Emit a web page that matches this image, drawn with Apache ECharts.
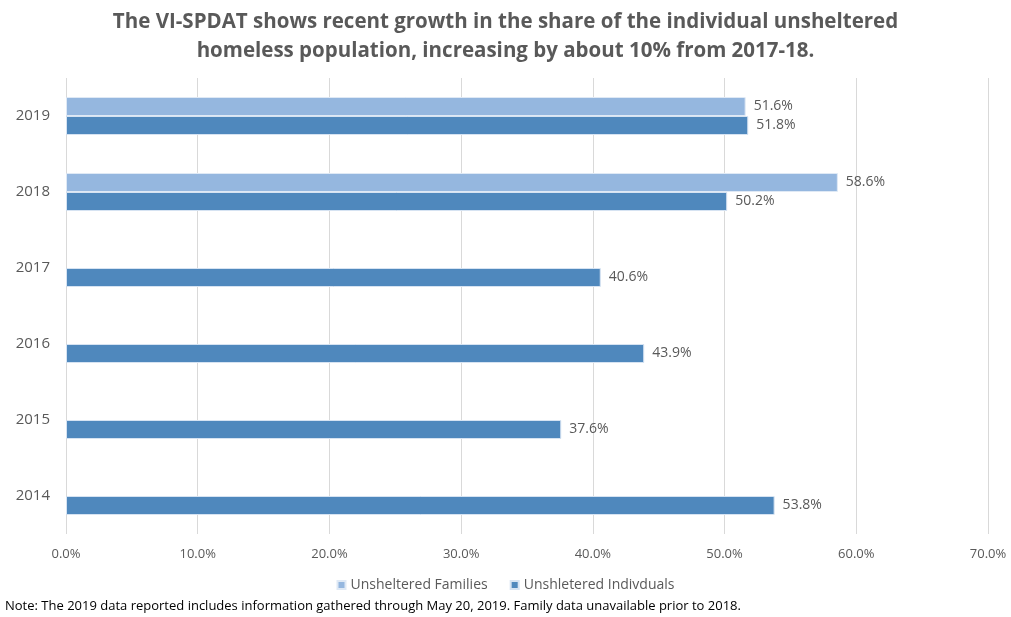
<!DOCTYPE html>
<html>
<head>
<meta charset="utf-8">
<script src="https://cdn.jsdelivr.net/npm/echarts@6/dist/echarts.min.js"></script>
<style>
  html, body { margin: 0; padding: 0; background: #fff; }
  #chart { width: 1011px; height: 617px; }
</style>
</head>
<body>
<div id="chart"></div>
<script>
// data
const years = ['2014', '2015', '2016', '2017', '2018', '2019'];
const families = [null, null, null, null, 58.6, 51.6];
const individuals = [53.8, 37.6, 43.9, 40.6, 50.2, 51.8];
const xTicks = [0, 10, 20, 30, 40, 50, 60, 70];

const font = '"Open Sans", sans-serif';
const grey = '#595959';

let myChart = echarts.init(document.getElementById('chart'));
myChart.setOption({
    animation: false,
    color: ['#95b7df', '#4f88bd'],
    title: {
        text: 'The VI-SPDAT shows recent growth in the share of the individual unsheltered\nhomeless population, increasing by about 10% from 2017-18.',
        left: 'center',
        top: 3,
        textStyle: {
            fontFamily: font,
            fontSize: 20.5,
            fontWeight: 'bold',
            color: grey,
            lineHeight: 29
        }
    },
    legend: {
        data: ['Unsheltered Families', 'Unshletered Indivduals'],
        bottom: 20,
        left: 'center',
        itemWidth: 8,
        itemHeight: 8,
        itemGap: 22,
        icon: 'rect',
        textStyle: { fontFamily: font, fontSize: 14, color: grey }
    },
    graphic: [{
        type: 'text',
        left: 5,
        bottom: 4,
        style: {
            text: 'Note: The 2019 data reported includes information gathered through May 20, 2019. Family data unavailable prior to 2018.',
            font: '13px ' + font,
            fill: '#000'
        }
    }],
    grid: { left: 66, right: 23, top: 78, bottom: 83, containLabel: false },
    xAxis: {
        type: 'value',
        min: xTicks[0],
        max: xTicks[xTicks.length - 1],
        interval: 10,
        axisLine: { show: false },
        axisTick: { show: false },
        splitLine: { lineStyle: { color: '#d9d9d9', width: 1 } },
        axisLabel: {
            margin: 14,
            fontFamily: font, fontSize: 13, color: grey,
            formatter: v => v.toFixed(1) + '%'
        }
    },
    yAxis: {
        type: 'category',
        data: years,
        axisLine: { show: false },
        axisTick: { show: false },
        axisLabel: { margin: 16, fontFamily: font, fontSize: 15, color: grey }
    },
    series: [
        {
            name: 'Unsheltered Families',
            type: 'bar',
            data: families,
            barGap: '0%',
            barWidth: 19,
            itemStyle: { borderColor: '#dfe9f5', borderWidth: 1 },
            label: {
                show: true, position: 'right', distance: 8,
                fontFamily: font, fontSize: 14, color: grey,
                formatter: p => p.value == null ? '' : p.value.toFixed(1) + '%'
            }
        },
        {
            name: 'Unshletered Indivduals',
            type: 'bar',
            data: individuals,
            barGap: '0%',
            barWidth: 19,
            itemStyle: { borderColor: '#d6e3f2', borderWidth: 1 },
            label: {
                show: true, position: 'right', distance: 8,
                fontFamily: font, fontSize: 14, color: grey,
                formatter: p => p.value.toFixed(1) + '%'
            }
        }
    ]
});
</script>
</body>
</html>
